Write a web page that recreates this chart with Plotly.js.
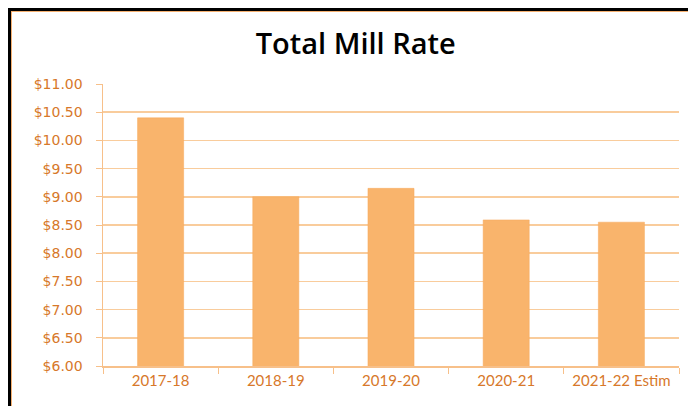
<!DOCTYPE html>
<html>
<head>
<meta charset="utf-8">
<script src="https://cdn.plot.ly/plotly-3.0.1.min.js"></script>
<style>
  html, body { margin: 0; padding: 0; background: #fff; }
  #wrap { position: relative; width: 688px; height: 406px; overflow: hidden; }
  #chart { position: absolute; left: 0; top: 0; width: 688px; height: 406px; }
  #frame { position: absolute; left: 8px; top: 8px; width: 700px; height: 420px;
           border-left: 3px solid #000; border-top: 3px solid #000; pointer-events: none; }
  #frame2 { position: absolute; left: 11px; top: 11px; width: 700px; height: 420px;
           border-left: 1px solid #F5B070; border-top: 1px solid #F5B070; pointer-events: none; }
</style>
</head>
<body>
<div id="wrap">
  <div id="chart"></div>
  <div id="frame"></div>
  <div id="frame2"></div>
</div>
<script>
const categories = ["2017-18", "2018-19", "2019-20", "2020-21", "2021-22 Estim"];
const millRate = [10.40, 9.00, 9.15, 8.59, 8.55];
const yTickVals = [6, 6.5, 7, 7.5, 8, 8.5, 9, 9.5, 10, 10.5, 11];
const yTickText = ["$6.00", "$6.50", "$7.00", "$7.50", "$8.00", "$8.50", "$9.00", "$9.50", "$10.00", "$10.50", "$11.00"];

const trace = {
  type: "bar",
  x: categories,
  y: millRate,
  base: 0,
  width: 0.4,
  marker: { color: "#F9B46C", line: { color: "#F7A95A", width: 0.5 } },
  hoverinfo: "x+y"
};

const layout = {
  width: 688, height: 406,
  margin: { l: 103, r: 9, t: 84, b: 40, pad: 0 },
  paper_bgcolor: "#fff",
  plot_bgcolor: "#fff",
  showlegend: false,
  title: {
    text: "Total Mill Rate",
    x: 0.517, xanchor: "center",
    y: 0.893, yanchor: "middle",
    font: { family: "Open Sans, Lato, sans-serif", size: 29, color: "#000", weight: 600 }
  },
  xaxis: {
    type: "category",
    tickson: "boundaries",
    ticks: "outside", ticklen: 6, tickcolor: "#F7C08A",
    showline: true, linecolor: "#F7C08A", linewidth: 1.5,
    showgrid: false,
    tickfont: { family: "Lato, Open Sans, sans-serif", size: 15, color: "#D7782A" },
    fixedrange: true
  },
  yaxis: {
    range: [6, 11],
    tickvals: yTickVals,
    ticktext: yTickText,
    ticks: "outside", ticklen: 6, tickcolor: "#F7C08A",
    ticklabelstandoff: 10,
    showline: true, linecolor: "#F7C08A", linewidth: 1.5,
    showgrid: true, gridcolor: "#F9CC9C", gridwidth: 1.5,
    zeroline: false,
    tickfont: { family: "DejaVu Sans, Verdana, sans-serif", size: 14, color: "#D7782A" },
    fixedrange: true
  },
  bargap: 0.6
};

Plotly.newPlot("chart", [trace], layout, { displayModeBar: false, staticPlot: true });
</script>
</body>
</html>
